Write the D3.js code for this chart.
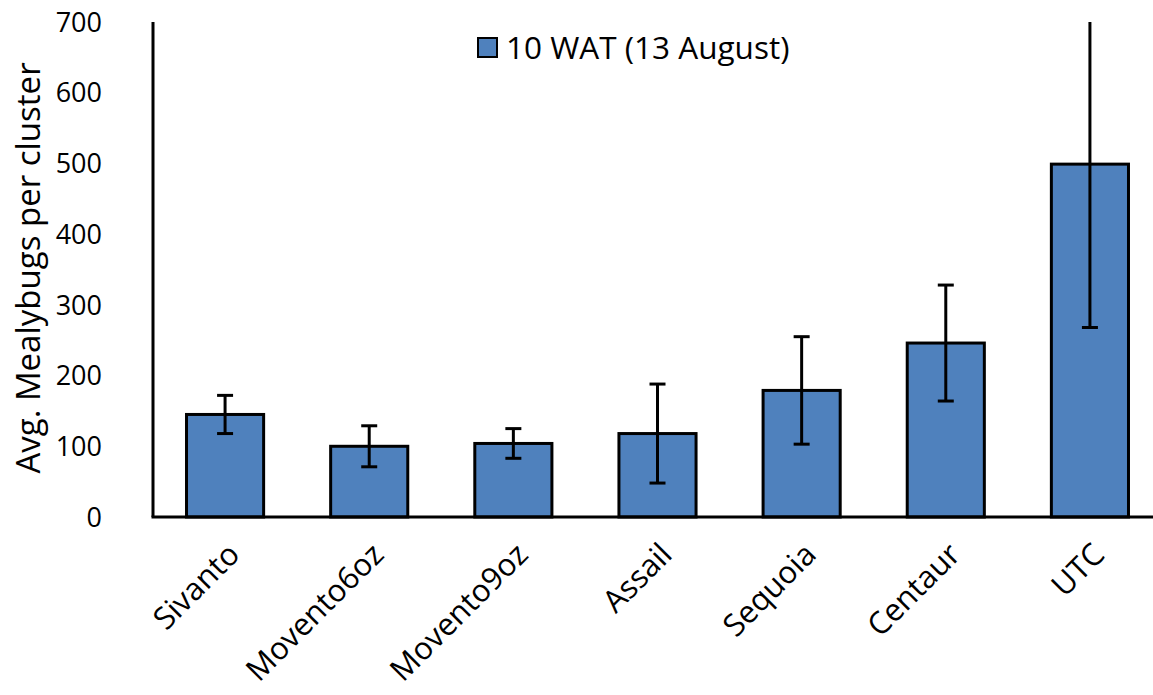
<!DOCTYPE html>
<html>
<head>
<meta charset="utf-8">
<script src="https://cdn.jsdelivr.net/npm/d3@7"></script>
<style>
  body { margin: 0; background: #fff; }
  text { font-family: "Open Sans", "Noto Sans", sans-serif; fill: #000; }
</style>
</head>
<body>
<svg class="chart" width="1153" height="695"></svg>
<script>
var categories = ["Sivanto", "Movento6oz", "Movento9oz", "Assail", "Sequoia", "Centaur", "UTC"];
var means = [145, 100, 104, 118, 179, 246, 499];
var errors = [27, 29, 21, 70, 76, 82, 231];
var yTicks = [0, 100, 200, 300, 400, 500, 600, 700];
var seriesName = "10 WAT (13 August)";
var axisTitle = "Avg. Mealybugs per cluster";

var LEFT = 153, RIGHT = 1162, TOP = 22, BOTTOM = 517;

var data = categories.map(function(c, i){
  return {name: c, value: means[i], err: errors[i]};
});

var svg = d3.select('.chart');

var xScale = d3.scaleBand()
  .domain(categories)
  .range([LEFT, RIGHT])
  .paddingInner(0.465)
  .paddingOuter(0.2325);

var yScale = d3.scaleLinear()
  .domain([0, 700])
  .range([BOTTOM, TOP]);

// y tick labels (no tick marks)
svg.append('g')
  .selectAll('text')
  .data(yTicks)
  .enter().append('text')
  .attr('x', 102)
  .attr('y', function(d){ return yScale(d); })
  .attr('dy', '0.36em')
  .attr('text-anchor', 'end')
  .style('font-size', '27px')
  .text(function(d){ return d; });

// bars
svg.append('g')
  .selectAll('rect')
  .data(data)
  .enter().append('rect')
  .attr('x', function(d){ return xScale(d.name); })
  .attr('y', function(d){ return yScale(d.value); })
  .attr('width', xScale.bandwidth())
  .attr('height', function(d){ return BOTTOM - yScale(d.value); })
  .attr('fill', '#4f81bd')
  .attr('stroke', '#000')
  .attr('stroke-width', 3);

// error bars
var eb = svg.append('g').attr('stroke', '#000').attr('stroke-width', 3);
data.forEach(function(d){
  var cx = xScale(d.name) + xScale.bandwidth() / 2;
  var hi = Math.min(d.value + d.err, 700);
  var lo = d.value - d.err;
  eb.append('line')
    .attr('x1', cx).attr('x2', cx)
    .attr('y1', yScale(hi)).attr('y2', yScale(lo));
  if (d.value + d.err <= 700) {
    eb.append('line')
      .attr('x1', cx - 8).attr('x2', cx + 8)
      .attr('y1', yScale(hi)).attr('y2', yScale(hi));
  }
  eb.append('line')
    .attr('x1', cx - 8).attr('x2', cx + 8)
    .attr('y1', yScale(lo)).attr('y2', yScale(lo));
});

// axis lines
svg.append('line')
  .attr('x1', LEFT).attr('x2', LEFT)
  .attr('y1', yScale(700)).attr('y2', BOTTOM)
  .attr('stroke', '#000').attr('stroke-width', 3);
svg.append('line')
  .attr('x1', LEFT - 1.5).attr('x2', 1153)
  .attr('y1', BOTTOM).attr('y2', BOTTOM)
  .attr('stroke', '#000').attr('stroke-width', 3);

// category labels, rotated
svg.append('g')
  .selectAll('text')
  .data(categories)
  .enter().append('text')
  .attr('transform', function(d){
    var cx = xScale(d) + xScale.bandwidth() / 2 + 1;
    return 'translate(' + cx + ',' + 541 + ') rotate(-45)';
  })
  .attr('text-anchor', 'end')
  .attr('dy', '0.7em')
  .style('font-size', '31px')
  .text(function(d){ return d; });

// y axis title
svg.append('text')
  .attr('transform', 'translate(40,' + 268 + ') rotate(-90)')
  .attr('text-anchor', 'middle')
  .style('font-size', '33px')
  .text(axisTitle);

// legend
var lg = svg.append('g');
lg.append('rect')
  .attr('x', 478).attr('y', 38)
  .attr('width', 19).attr('height', 19)
  .attr('fill', '#4f81bd')
  .attr('stroke', '#000').attr('stroke-width', 2);
lg.append('text')
  .attr('x', 506).attr('y', 48)
  .attr('dy', '0.36em')
  .style('font-size', '31.5px')
  .text(seriesName);
</script>
</body>
</html>
